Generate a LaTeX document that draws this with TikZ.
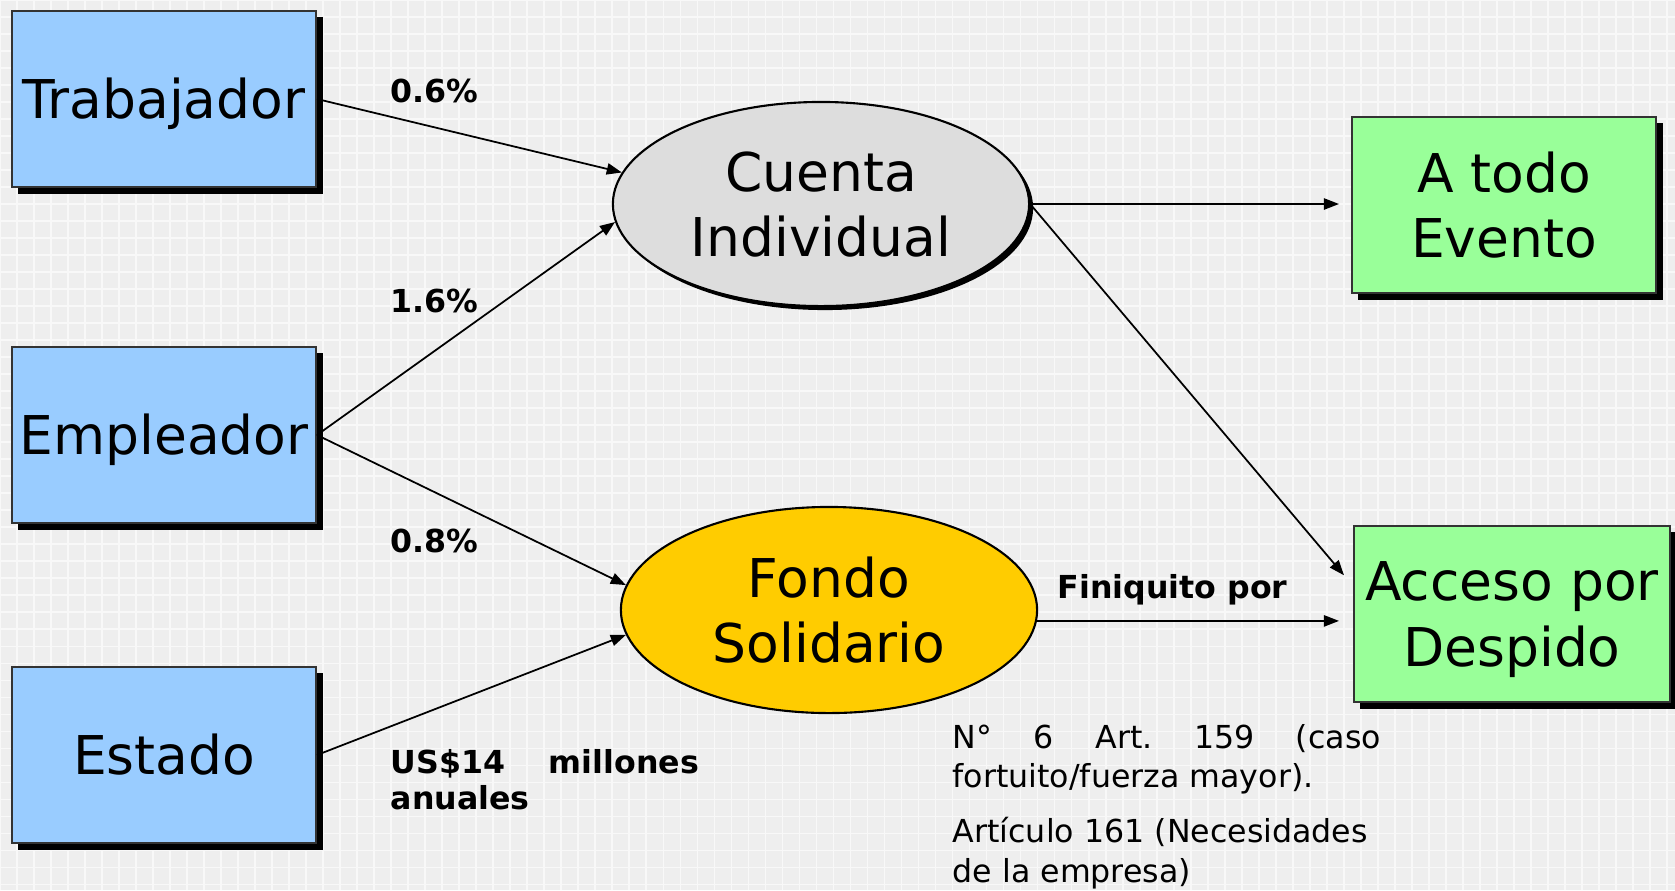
\documentclass[tikz,border=0pt]{standalone}
\usepackage{fontspec}
\setmainfont{DejaVu Sans}
\usetikzlibrary{arrows.meta,shadows,shapes.geometric}

\definecolor{boxblue}{HTML}{99CCFF}
\definecolor{boxgreen}{HTML}{99FF99}
\definecolor{cuentagray}{HTML}{DDDDDD}
\definecolor{fondoyellow}{HTML}{FFCC00}
\definecolor{bgcol}{HTML}{EEEEEE}

\tikzset{
	caja/.style={draw=black!80, line width=0.5pt, minimum width=3.04cm, minimum height=1.76cm, inner sep=0pt, font=\fontsize{15.2}{18.5}\selectfont, drop shadow={shadow xshift=0.065cm, shadow yshift=-0.065cm, fill=black, opacity=1}},
	aporte/.style={caja, fill=boxblue, text height=11.1pt, text depth=0pt},
	beneficio/.style={caja, fill=boxgreen, align=center},
	fondo/.style={ellipse, draw, line width=0.6pt, minimum width=4.16cm, minimum height=2.04cm, inner sep=0pt, align=center, text depth=-2.8pt, font=\fontsize{15.2}{18.5}\selectfont},
	flujo/.style={-{Triangle[length=4.3pt,width=3.2pt]}, line width=0.5pt},
	tasa/.style={font=\fontsize{9}{10.5}\selectfont\bfseries, anchor=base west, inner sep=0pt}
}

\begin{document}
		\begin{tikzpicture}[x=0.01cm, y=-0.01cm]
			%Fondo
			\useasboundingbox (0,0) rectangle (1675,890);
			\fill[bgcol] (0,0) rectangle (1675,890);
			\draw[white!60!bgcol, line width=0.5pt, step=0.17cm] (0,0) grid (1675,890);
			
			%Aportantes
			\node[aporte] (trab) at (164,99) {Trabajador};
			\node[aporte] (emp) at (164,435) {Empleador};
			\node[aporte] (estado) at (164,755) {Estado};
			
			%Cuentas
			\node[fondo, fill=cuentagray, drop shadow={shadow xshift=0.04cm, shadow yshift=-0.04cm, fill=black, opacity=1}] (cuenta) at (821,204) {Cuenta\\ Individual};
			\node[fondo, fill=fondoyellow, minimum height=2.06cm] (fsol) at (829,610) {Fondo\\ Solidario};
			
			%Beneficios
			\node[beneficio, text depth=-1.8pt] (atodo) at (1504,205) {A todo\\ Evento};
			\node[beneficio, minimum width=3.16cm, text depth=-0.5pt] (acceso) at (1512,614) {Acceso por\\ Despido};
			
			%Tasas
			\node[tasa] (t06) at (390,102) {0.6\%};
			\node[tasa] (t16) at (390,312) {1.6\%};
			\node[tasa] (t08) at (390,552) {0.8\%};
			\node[tasa, text width=3.08cm, align=justify] (usd) at (390,773) {US\$14 millones\linebreak anuales};
			\node[tasa] (fin) at (1057,598) {Finiquito por};
			\node[anchor=base west, inner sep=0pt, text width=4.28cm, align=justify, font=\fontsize{9}{11.1}\selectfont\frenchspacing] (nota) at (952,748) {N° 6 Art. 159 (caso\linebreak fortuito/fuerza mayor).\par\vspace{4.8pt}Artículo 161 (Necesidades\\ de la empresa)};
			
			%Flechas
			\draw[flujo] (trab.east) -- (cuenta.171);
			\draw[flujo] (emp.east) -- (cuenta.185);
			\draw[flujo] (emp.east) -- (fsol.173);
			\draw[flujo] (estado.east) -- (fsol.187);
			\draw[flujo, shorten >=0.12cm] (cuenta.east) -- (cuenta.east -| atodo.west);
			\draw[flujo, shorten >=0.14cm] (cuenta.east) -- (acceso.170);
			\draw[flujo, shorten >=0.14cm] (fsol.-3) -- (fsol.-3 -| acceso.west);
		\end{tikzpicture}
\end{document}
